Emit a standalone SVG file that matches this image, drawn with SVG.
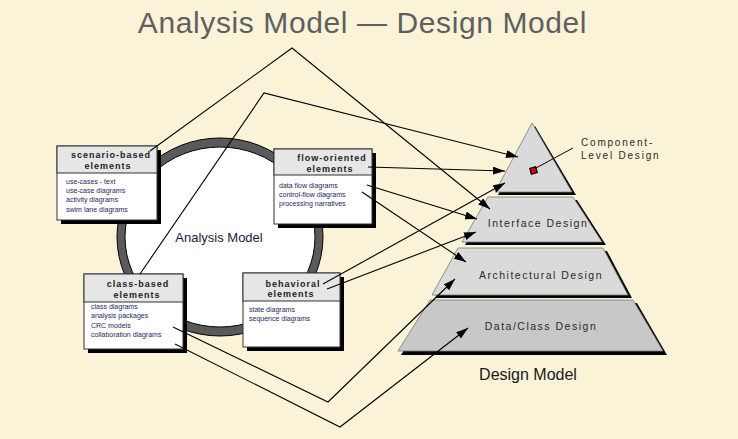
<svg xmlns="http://www.w3.org/2000/svg" width="738" height="439" viewBox="0 0 738 439">
<style>
.hdr{font-family:"Liberation Sans",Arial,sans-serif;font-size:9px;font-weight:bold;letter-spacing:1px;fill:#222;text-anchor:middle}
.itm{font-family:"Liberation Sans",Arial,sans-serif;font-size:7px;fill:#262660}
.box{stroke:#333;stroke-width:1}
.hfill{fill:#e6e6e6}
.bfill{fill:#fff}
.shadow{fill:#000}
.lay{stroke:#777;stroke-width:0.8}
.lbl{font-family:"Liberation Sans",Arial,sans-serif;font-size:10.5px;letter-spacing:1.5px;fill:#2a2a2a;text-anchor:middle}
.cmp{font-family:"Liberation Sans",Arial,sans-serif;font-size:10px;letter-spacing:1.8px;fill:#2a2a2a}
.con{fill:none;stroke:#000;stroke-width:1.1}
</style>
<defs>
<marker id="ah" markerWidth="12" markerHeight="8" refX="12" refY="4" orient="auto" markerUnits="userSpaceOnUse">
<path d="M0,0 L12,4 L0,8 z" fill="#000"/>
</marker>
</defs>
<rect width="738" height="439" fill="#fbf3d7"/>
<text x="362.5" y="33" font-family="Liberation Sans,Arial,sans-serif" font-size="30" letter-spacing="0.6" fill="#5f5f5f" text-anchor="middle">Analysis Model — Design Model</text>

<g id="analysis-model">
<ellipse cx="220" cy="237" rx="103" ry="99" fill="#5a5a5a" stroke="#000" stroke-width="1"/>
<ellipse cx="220" cy="237" rx="95" ry="90" fill="#fff" stroke="#000" stroke-width="1"/>
<text x="219" y="242" font-family="Liberation Sans,Arial,sans-serif" font-size="13" fill="#1a1a40" text-anchor="middle">Analysis Model</text>
</g>

<g id="scenario-based">
<rect class="shadow" x="61" y="150" width="100" height="74"/>
<rect class="box bfill" x="57" y="146" width="100" height="74"/>
<rect class="box hfill" x="57" y="146" width="100" height="27"/>
<text class="hdr" x="111" y="158">scenario-based</text>
<text class="hdr" x="108" y="169">elements</text>
<text class="itm" x="66" y="184">use-cases - text</text>
<text class="itm" x="66" y="193">use-case diagrams</text>
<text class="itm" x="66" y="202">activity diagrams</text>
<text class="itm" x="66" y="212">swim lane diagrams</text>
</g>

<g id="flow-oriented">
<rect class="shadow" x="278" y="153" width="98" height="75"/>
<rect class="box bfill" x="274" y="149" width="98" height="75"/>
<rect class="box hfill" x="274" y="149" width="98" height="26"/>
<text class="hdr" x="332" y="161">flow-oriented</text>
<text class="hdr" x="330" y="172">elements</text>
<text class="itm" x="279" y="188">data flow diagrams</text>
<text class="itm" x="279" y="197">control-flow diagrams</text>
<text class="itm" x="279" y="206">processing narratives</text>
</g>

<g id="class-based">
<rect class="shadow" x="88" y="278" width="99" height="75"/>
<rect class="box bfill" x="84" y="274" width="99" height="75"/>
<rect class="box hfill" x="84" y="274" width="99" height="28"/>
<text class="hdr" x="138" y="287">class-based</text>
<text class="hdr" x="137" y="298">elements</text>
<text class="itm" x="91" y="309">class diagrams</text>
<text class="itm" x="91" y="318">analysis packages</text>
<text class="itm" x="91" y="328">CRC models</text>
<text class="itm" x="91" y="337">collaboration diagrams</text>
</g>

<g id="behavioral">
<rect class="shadow" x="247" y="277" width="97" height="74"/>
<rect class="box bfill" x="243" y="273" width="97" height="74"/>
<rect class="box hfill" x="243" y="273" width="97" height="28"/>
<text class="hdr" x="293" y="287">behavioral</text>
<text class="hdr" x="291" y="297">elements</text>
<text class="itm" x="249" y="312">state diagrams</text>
<text class="itm" x="249" y="321">sequence diagrams</text>
</g>

<g id="design-model">
<g id="component-level">
<polygon class="shadow" points="535,126 576,195 498,195"/>
<polygon class="lay" fill="#dadada" points="532,123 572,192 495,192"/>
<rect x="530.5" y="167.5" width="6" height="6" fill="#e00000" stroke="#000" stroke-width="1.3" transform="rotate(-15 533.5 170.5)"/>
<line x1="536" y1="168" x2="573" y2="148" stroke="#000" stroke-width="1"/>
<text class="cmp" x="581" y="146">Component-</text>
<text class="cmp" x="581" y="159">Level Design</text>
</g>
<g id="interface-design">
<polygon class="shadow" points="491,200 577,200 606,245 465,245"/>
<polygon class="lay" fill="#dadada" points="488,197 573,197 602,242 462,242"/>
<text class="lbl" x="538" y="227">Interface Design</text>
</g>
<g id="architectural-design">
<polygon class="shadow" points="461,251 607,251 632,298 435,298"/>
<polygon class="lay" fill="#dadada" points="458,248 603,248 628,295 432,295"/>
<text class="lbl" x="541" y="279">Architectural Design</text>
</g>
<g id="data-class-design">
<polygon class="shadow" points="433,303 637,303 667,355 401,355"/>
<polygon class="lay" fill="#c8c8c8" points="430,300 633,300 663,351 398,351"/>
<text class="lbl" x="541" y="330">Data/Class Design</text>
</g>
<text x="528" y="380" font-family="Liberation Sans,Arial,sans-serif" font-size="16" fill="#1a1a1a" text-anchor="middle">Design Model</text>
</g>

<g id="connectors">
<polyline class="con" points="150,151 292,48 490,209" marker-end="url(#ah)"/>
<polyline class="con" points="140,274 264,93 518,157" marker-end="url(#ah)"/>
<line class="con" x1="368" y1="167" x2="505" y2="171" marker-end="url(#ah)"/>
<line class="con" x1="367" y1="185" x2="477" y2="219" marker-end="url(#ah)"/>
<line class="con" x1="362" y1="192" x2="466" y2="262" marker-end="url(#ah)"/>
<line class="con" x1="323" y1="284" x2="505" y2="183" marker-end="url(#ah)"/>
<line class="con" x1="327" y1="289" x2="476" y2="232" marker-end="url(#ah)"/>
<polyline class="con" points="173,327 328,402 455,279" marker-end="url(#ah)"/>
<polyline class="con" points="175,344 340,427 468,328" marker-end="url(#ah)"/>
</g>
</svg>
